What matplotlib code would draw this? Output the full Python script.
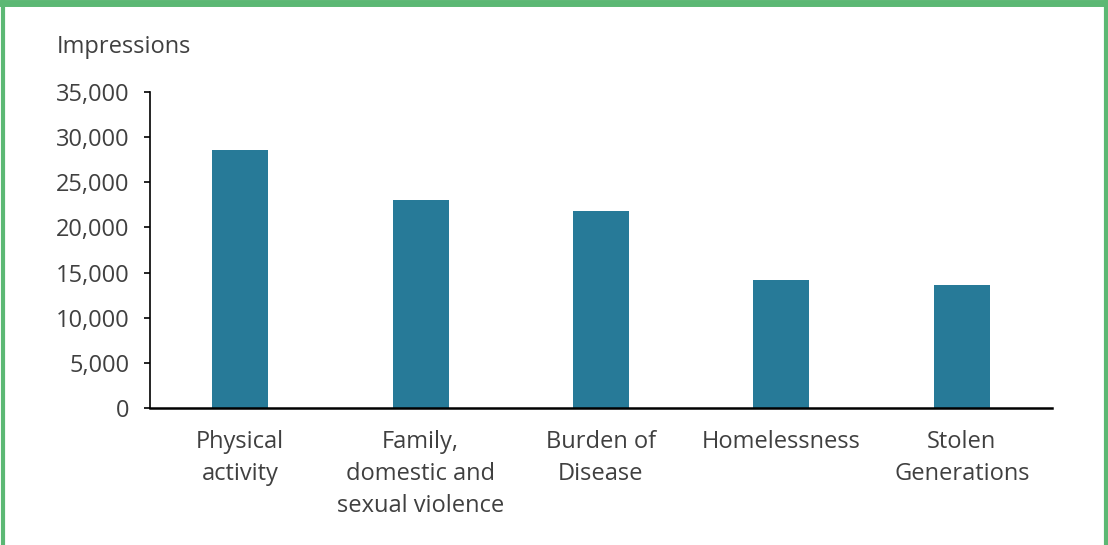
import matplotlib.pyplot as plt
from matplotlib.lines import Line2D
from matplotlib.ticker import FuncFormatter

categories = ["Physical\nactivity", "Family,\ndomestic and\nsexual violence",
              "Burden of\nDisease", "Homelessness", "Stolen\nGenerations"]
impressions = [28600, 23000, 21800, 14200, 13600]
yticks = [0, 5000, 10000, 15000, 20000, 25000, 30000, 35000]

plt.rcParams['font.family'] = ['Open Sans', 'DejaVu Sans']
text_col = "#404040"

fig = plt.figure(figsize=(11.08, 5.45), dpi=100)
ax = fig.add_axes([150 / 1108, 1 - 408 / 545, 902 / 1108, 316 / 545])

x = list(range(len(categories)))
ax.bar(x, impressions, width=0.31, color="#277a98")
ax.set_xlim(-0.5, len(categories) - 0.5)
ax.set_ylim(0, 35000)
ax.set_yticks(yticks)
ax.yaxis.set_major_formatter(FuncFormatter(lambda v, p: f"{int(v):,}"))
ax.set_xticks(x)
ax.set_xticklabels(categories, linespacing=1.45)
ax.tick_params(axis='x', length=0, pad=15.5, labelsize=17, labelcolor=text_col)
ax.tick_params(axis='y', length=4, width=1.2, pad=10.5, labelsize=17, labelcolor=text_col)

for s in ["top", "right"]:
    ax.spines[s].set_visible(False)
ax.spines["left"].set_linewidth(1.2)
ax.spines["bottom"].set_linewidth(1.8)

fig.text(57 / 1108, 1 - 47 / 545, "Impressions", fontsize=17, color=text_col,
         ha="left", va="center")

# green frame
green = "#5cb874"
fig.add_artist(Line2D([0, 1], [1 - 2.5 / 545] * 2, color=green, lw=5, transform=fig.transFigure))
fig.add_artist(Line2D([3.5 / 1108] * 2, [0, 1], color=green, lw=3, transform=fig.transFigure))
fig.add_artist(Line2D([1106 / 1108] * 2, [0, 1], color=green, lw=3, transform=fig.transFigure))

fig.savefig("out.png", dpi=100)
